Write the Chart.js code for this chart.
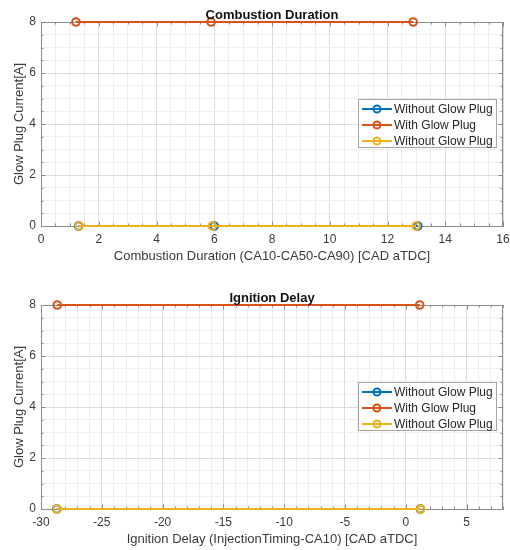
<!DOCTYPE html>
<html>
<head>
<meta charset="utf-8">
<script src="https://cdn.jsdelivr.net/npm/chart.js@4.4.0/dist/chart.umd.min.js"></script>
<style>
  html, body { margin: 0; padding: 0; background: #fff; width: 510px; height: 550px; overflow: hidden; }
  .panel { position: absolute; left: 0; width: 510px; height: 267px; }
</style>
</head>
<body>
<div class="panel" style="top:0px"><canvas id="cdChart" width="510" height="267"></canvas></div>
<div class="panel" style="top:283px"><canvas id="idChart" width="510" height="267"></canvas></div>
<script>
// Combustion duration: CA10, CA50, CA90 crank angles [CAD aTDC]
const cdWithout = [1.30, 6.00, 13.05];
const cdWith = [1.21, 5.89, 12.89];
const cdWithout2 = [1.32, 5.93, 12.99];
const cdCurrentWithout = [0, 0, 0];
const cdCurrentWith = [8, 8, 8];
const cdCurrentWithout2 = [0, 0, 0];
const cdXTicks = [0, 2, 4, 6, 8, 10, 12, 14, 16];

// Ignition delay: injection timing and CA10 [CAD aTDC]
const idWithout = [-28.70, 1.20];
const idWith = [-28.66, 1.15];
const idWithout2 = [-28.66, 1.23];
const idCurrentWithout = [0, 0];
const idCurrentWith = [8, 8];
const idCurrentWithout2 = [0, 0];
const idXTicks = [-30, -25, -20, -15, -10, -5, 0, 5];

// Glow plug current axis
const yTicks = [0, 2, 4, 6, 8];

const seriesLabels = ['Without Glow Plug', 'With Glow Plug', 'Without Glow Plug'];
const seriesColors = ['#0072BD', '#D95319', '#EDB120'];

const FONT = '"Liberation Sans", Arial, Helvetica, sans-serif';
const AXIS_COLOR = '#8c8c8c';
const TEXT_COLOR = '#3a3a3a';
const GRID_MAJOR = '#dcdcdc';
const GRID_MINOR = '#eeeeee';

function pairs(xs, ys) {
  return xs.map((x, i) => ({ x: x, y: ys[i] }));
}

function isIn(list, v) {
  return list.some(t => Math.abs(t - v) < 1e-9);
}

// Axes box on the top/right edges plus inward tick marks on all four sides
const framePlugin = {
  id: 'frame',
  beforeDatasetsDraw(chart) {
    const { ctx, chartArea: a, scales } = chart;
    const xs = scales.x, ys = scales.y;
    ctx.save();
    ctx.strokeStyle = AXIS_COLOR;
    ctx.lineWidth = 1;
    ctx.beginPath();
    ctx.moveTo(a.left, a.top + 0.5);
    ctx.lineTo(a.right, a.top + 0.5);
    ctx.moveTo(a.right - 0.5, a.top);
    ctx.lineTo(a.right - 0.5, a.bottom);
    ctx.stroke();
    const majX = chart.options.plugins.frame.majorX;
    const majY = chart.options.plugins.frame.majorY;
    ctx.beginPath();
    xs.ticks.forEach(t => {
      const px = Math.round(xs.getPixelForValue(t.value)) + 0.5;
      const len = isIn(majX, t.value) ? 4.5 : 2.5;
      ctx.moveTo(px, a.bottom);
      ctx.lineTo(px, a.bottom - len);
      ctx.moveTo(px, a.top);
      ctx.lineTo(px, a.top + len);
    });
    ys.ticks.forEach(t => {
      const py = Math.round(ys.getPixelForValue(t.value)) + 0.5;
      const len = isIn(majY, t.value) ? 4.5 : 2.5;
      ctx.moveTo(a.left, py);
      ctx.lineTo(a.left + len, py);
      ctx.moveTo(a.right, py);
      ctx.lineTo(a.right - len, py);
    });
    ctx.stroke();
    ctx.restore();
  }
};

// Bold axes title just above the plot box
const headingPlugin = {
  id: 'heading',
  afterDraw(chart) {
    const { ctx, chartArea: a } = chart;
    const text = chart.options.plugins.heading.text;
    ctx.save();
    ctx.font = 'bold 13px ' + FONT;
    ctx.fillStyle = '#111';
    ctx.textAlign = 'center';
    ctx.textBaseline = 'alphabetic';
    ctx.fillText(text, (a.left + a.right) / 2, a.top - 3.5);
    ctx.restore();
  }
};

// Boxed legend inside the plot, right side
const insetLegendPlugin = {
  id: 'insetLegend',
  afterDraw(chart) {
    const { ctx, chartArea: a } = chart;
    const left = a.right - 145, right = a.right - 6;
    const top = a.top + 77, bottom = a.top + 126;
    ctx.save();
    ctx.fillStyle = '#fff';
    ctx.fillRect(left, top, right - left, bottom - top);
    ctx.strokeStyle = '#a6a6a6';
    ctx.lineWidth = 1;
    ctx.strokeRect(left + 0.5, top + 0.5, right - left - 1, bottom - top - 1);
    ctx.font = '12px ' + FONT;
    ctx.textBaseline = 'middle';
    ctx.textAlign = 'left';
    chart.data.datasets.forEach((ds, i) => {
      const y = a.top + 87 + i * 16;
      ctx.strokeStyle = ds.borderColor;
      ctx.lineWidth = 2;
      ctx.beginPath();
      ctx.moveTo(left + 4, y);
      ctx.lineTo(left + 34, y);
      ctx.stroke();
      ctx.lineWidth = 2;
      ctx.beginPath();
      ctx.arc(left + 19, y, 3.5, 0, Math.PI * 2);
      ctx.stroke();
      ctx.fillStyle = '#262626';
      ctx.fillText(ds.label, left + 36, y + 0.5);
    });
    ctx.restore();
  }
};

function makeDataset(label, color, data, order) {
  return {
    label: label,
    data: data,
    borderColor: color,
    backgroundColor: color,
    borderWidth: 2,
    pointRadius: 3.8,
    pointHoverRadius: 3.8,
    pointBorderWidth: 2,
    pointBorderColor: color,
    pointBackgroundColor: 'rgba(255,255,255,0)',
    showLine: true,
    tension: 0,
    clip: false,
    order: order
  };
}

function makeChart(id, heading, xTitle, xMin, xMax, xStep, xMajor, series) {
  return new Chart(document.getElementById(id), {
    type: 'scatter',
    data: {
      datasets: series.map((s, i) => makeDataset(seriesLabels[i], seriesColors[i], s, series.length - i))
    },
    options: {
      responsive: false,
      animation: false,
      devicePixelRatio: 1,
      layout: { padding: { top: 22, right: 7, bottom: 0, left: 0 } },
      plugins: {
        legend: { display: false },
        tooltip: { enabled: false },
        heading: { text: heading },
        frame: { majorX: xMajor, majorY: yTicks }
      },
      scales: {
        x: {
          type: 'linear',
          min: xMin,
          max: xMax,
          afterFit: s => { s.height = 41; s.paddingLeft = 0; s.paddingRight = 0; },
          ticks: {
            stepSize: xStep,
            autoSkip: false,
            maxRotation: 0,
            padding: 6,
            color: TEXT_COLOR,
            font: { family: FONT, size: 12 },
            callback: v => (isIn(xMajor, v) ? String(v) : '')
          },
          grid: {
            drawTicks: false,
            lineWidth: 1,
            color: c => (c.tick && isIn(xMajor, c.tick.value) ? GRID_MAJOR : GRID_MINOR)
          },
          border: { display: true, color: AXIS_COLOR, width: 1 },
          title: {
            display: true,
            text: xTitle,
            color: TEXT_COLOR,
            font: { family: FONT, size: 13 },
            padding: { top: 0, bottom: 3 }
          }
        },
        y: {
          type: 'linear',
          min: 0,
          max: 8,
          afterFit: s => { s.width = 41; s.paddingTop = 0; s.paddingBottom = 0; },
          ticks: {
            stepSize: 0.5,
            autoSkip: false,
            padding: 5,
            color: TEXT_COLOR,
            font: { family: FONT, size: 12 },
            callback: v => (isIn(yTicks, v) ? String(v) : '')
          },
          grid: {
            drawTicks: false,
            lineWidth: 1,
            color: c => (c.tick && isIn(yTicks, c.tick.value) ? GRID_MAJOR : GRID_MINOR)
          },
          border: { display: true, color: AXIS_COLOR, width: 1 },
          title: {
            display: true,
            text: 'Glow Plug Current[A]',
            color: TEXT_COLOR,
            font: { family: FONT, size: 13 },
            padding: { top: 12, bottom: 0 }
          }
        }
      }
    },
    plugins: [framePlugin, headingPlugin, insetLegendPlugin]
  });
}

makeChart('cdChart', 'Combustion Duration', 'Combustion Duration (CA10-CA50-CA90) [CAD aTDC]',
  0, 16, 0.5, cdXTicks,
  [pairs(cdWithout, cdCurrentWithout), pairs(cdWith, cdCurrentWith), pairs(cdWithout2, cdCurrentWithout2)]);

makeChart('idChart', 'Ignition Delay', 'Ignition Delay (InjectionTiming-CA10) [CAD aTDC]',
  -30, 8, 1, idXTicks,
  [pairs(idWithout, idCurrentWithout), pairs(idWith, idCurrentWith), pairs(idWithout2, idCurrentWithout2)]);
</script>
</body>
</html>
